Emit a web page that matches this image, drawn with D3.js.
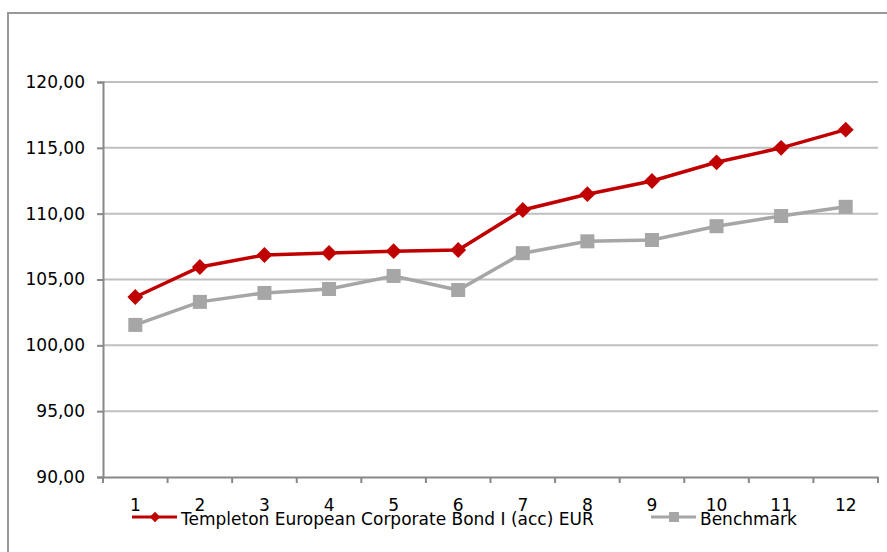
<!DOCTYPE html>
<html>
<head>
<meta charset="utf-8">
<script src="https://cdn.jsdelivr.net/npm/d3@7"></script>
<style>
  html, body { margin: 0; padding: 0; background: #fff; }
  svg { display: block; font-family: "DejaVu Sans", sans-serif; }
</style>
</head>
<body>
<svg id="chart" width="887" height="552"></svg>
<script>
const categories = ["1","2","3","4","5","6","7","8","9","10","11","12"];
const fundName = "Templeton European Corporate Bond I (acc) EUR";
const fundValues = [103.67, 105.95, 106.86, 107.01, 107.15, 107.24, 110.28, 111.48, 112.48, 113.90, 115.00, 116.38];
const benchName = "Benchmark";
const benchValues = [101.55, 103.30, 103.98, 104.28, 105.27, 104.20, 107.00, 107.90, 108.00, 109.05, 109.82, 110.52];
const yTicks = [90, 95, 100, 105, 110, 115, 120];

(function () {
const svg = d3.select("#chart");
const W = 887, H = 552;
const pLeft = 103, pRight = 878, pTop = 82, pBottom = 477;
const FS = 17;

// outer frame
svg.append("rect")
  .attr("x", 8).attr("y", 13)
  .attr("width", W + 20).attr("height", H + 20)
  .attr("fill", "none").attr("stroke", "#999").attr("stroke-width", 2);

const x = d3.scaleBand().domain(categories).range([pLeft, pRight]);
const y = d3.scaleLinear().domain([90, 120]).range([pBottom, pTop]);

const fmt = v => d3.format(".2f")(v).replace(".", ",");

// gridlines
svg.append("g")
  .selectAll("line")
  .data(yTicks.filter(t => t !== 90))
  .join("line")
  .attr("x1", pLeft).attr("x2", pRight)
  .attr("y1", d => y(d)).attr("y2", d => y(d))
  .attr("stroke", "#bfbfbf").attr("stroke-width", 2);

// y axis
const yAxis = svg.append("g")
  .attr("transform", `translate(${pLeft},0)`)
  .call(d3.axisLeft(y).tickValues(yTicks).tickFormat(fmt).tickSize(6).tickPadding(12));
yAxis.select(".domain").attr("stroke", "#888").attr("stroke-width", 2);
yAxis.selectAll(".tick line").attr("stroke", "#888").attr("stroke-width", 2);
yAxis.selectAll(".tick text").attr("font-size", FS).attr("fill", "#000")
  .attr("font-family", "DejaVu Sans, sans-serif");

// x axis
const xAxis = svg.append("g")
  .attr("transform", `translate(0,${pBottom})`)
  .call(d3.axisBottom(x).tickSize(0).tickPadding(22));
xAxis.select(".domain").attr("stroke", "#888").attr("stroke-width", 2);
xAxis.selectAll(".tick text").attr("font-size", FS).attr("fill", "#000")
  .attr("font-family", "DejaVu Sans, sans-serif");
// x tick marks at band edges
const edges = categories.map(c => x(c)).concat([x(categories[categories.length - 1]) + x.bandwidth()]);
svg.append("g").selectAll("line")
  .data(edges)
  .join("line")
  .attr("x1", d => d).attr("x2", d => d)
  .attr("y1", pBottom).attr("y2", pBottom + 6)
  .attr("stroke", "#888").attr("stroke-width", 2);

const cx = d => x(d) + x.bandwidth() / 2;
const line = d3.line().x(d => cx(d.c)).y(d => y(d.v));

const fundData = categories.map((c, i) => ({c, v: fundValues[i]}));
const benchData = categories.map((c, i) => ({c, v: benchValues[i]}));

const red = "#c00000", gray = "#a6a6a6";

// benchmark
svg.append("path").datum(benchData).attr("d", line)
  .attr("fill", "none").attr("stroke", gray).attr("stroke-width", 3.5);
svg.append("g").selectAll("rect").data(benchData).join("rect")
  .attr("x", d => cx(d.c) - 7).attr("y", d => y(d.v) - 7)
  .attr("width", 14).attr("height", 14).attr("fill", gray);

// fund
svg.append("path").datum(fundData).attr("d", line)
  .attr("fill", "none").attr("stroke", red).attr("stroke-width", 3.5);
const diamond = d3.symbol().type(d3.symbolDiamond2).size(160);
svg.append("g").selectAll("path").data(fundData).join("path")
  .attr("transform", d => `translate(${cx(d.c)},${y(d.v)})`)
  .attr("d", diamond).attr("fill", red);

// legend
const lg = svg.append("g");
const ly = 517;
lg.append("line").attr("x1", 132).attr("x2", 177).attr("y1", ly).attr("y2", ly)
  .attr("stroke", red).attr("stroke-width", 3);
lg.append("path").attr("transform", `translate(155,${ly})`)
  .attr("d", d3.symbol().type(d3.symbolDiamond2).size(70)).attr("fill", red);
lg.append("text").attr("x", 181).attr("y", ly + 8).attr("font-size", FS).attr("fill", "#000")
  .text(fundName);

lg.append("line").attr("x1", 651).attr("x2", 696).attr("y1", ly).attr("y2", ly)
  .attr("stroke", gray).attr("stroke-width", 3);
lg.append("rect").attr("x", 669).attr("y", ly - 5).attr("width", 10).attr("height", 10).attr("fill", gray);
lg.append("text").attr("x", 700).attr("y", ly + 8).attr("font-size", FS).attr("fill", "#000")
  .text(benchName);
})();
</script>
</body>
</html>
